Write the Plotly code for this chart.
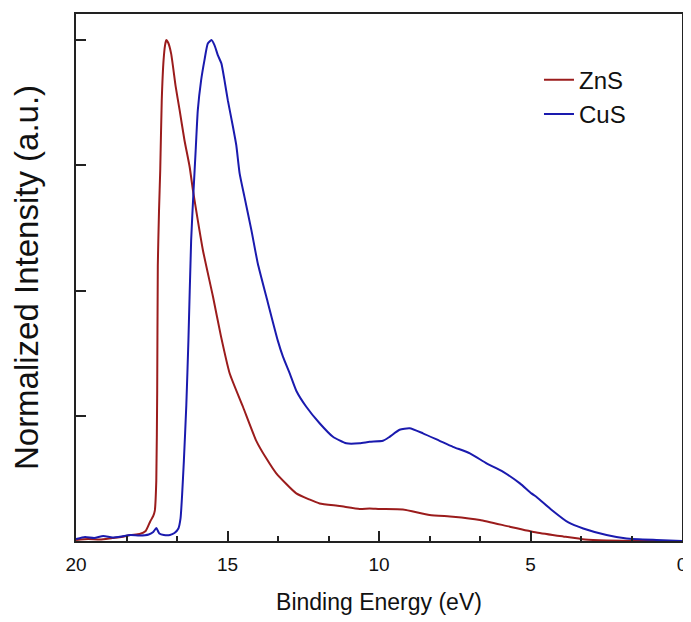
import plotly.graph_objects as go

# Binding energy (eV) and normalized intensity
zns_energy = [20.0, 19.6, 19.2, 18.8, 18.5, 18.2, 17.9, 17.7, 17.55, 17.45, 17.40, 17.35, 17.32,
              17.30, 17.26, 17.22, 17.17, 17.11, 17.06, 17.02, 16.96, 16.86, 16.71, 16.58, 16.42,
              16.25, 16.14, 15.98, 15.81, 15.48, 15.22, 14.93, 14.49, 14.05, 13.72, 13.39, 12.73,
              12.3, 11.96, 11.3, 10.64, 10.31, 9.98, 9.21, 8.33, 7.56, 6.67, 5.68, 4.8, 3.92, 3.2,
              2.5, 1.5, 0.0]
zns_intensity = [0.002, 0.004, 0.003, 0.006, 0.008, 0.012, 0.014, 0.020, 0.039, 0.050, 0.060, 0.12,
                 0.30, 0.55, 0.66, 0.74, 0.88, 0.96, 0.99, 1.0, 0.995, 0.973, 0.907, 0.86, 0.80,
                 0.747, 0.70, 0.64, 0.58, 0.488, 0.41, 0.335, 0.268, 0.20, 0.165, 0.135, 0.095,
                 0.083, 0.075, 0.070, 0.064, 0.065, 0.064, 0.063, 0.052, 0.0485, 0.042, 0.0285,
                 0.017, 0.009, 0.003, 0.001, 0.0, 0.0]

cus_energy = [20.0, 19.7, 19.4, 19.1, 18.8, 18.5, 18.2, 17.9, 17.6, 17.45, 17.35, 17.25, 17.1,
              16.9, 16.75, 16.62, 16.55, 16.5, 16.44, 16.36, 16.29, 16.2, 16.12, 16.05, 15.98,
              15.87, 15.76, 15.65, 15.53, 15.43, 15.32, 15.2, 15.1, 14.99, 14.82, 14.71, 14.6,
              14.44, 14.21, 14.0, 13.72, 13.34, 13.17, 12.95, 12.73, 12.4, 11.96, 11.52, 11.08,
              10.64, 10.31, 9.87, 9.65, 9.32, 8.99, 8.55, 8.0, 7.56, 7.0, 6.45, 5.9, 5.35, 4.97,
              4.8, 4.3, 3.75, 3.26, 2.49, 1.83, 0.84, 0.0]
cus_intensity = [0.004, 0.008, 0.006, 0.010, 0.007, 0.009, 0.012, 0.011, 0.013, 0.018, 0.026, 0.015,
                 0.012, 0.012, 0.016, 0.025, 0.045, 0.09, 0.16, 0.27, 0.40, 0.60, 0.70, 0.78, 0.86,
                 0.92, 0.96, 0.993, 1.0, 0.99, 0.97, 0.953, 0.92, 0.88, 0.827, 0.79, 0.734, 0.687,
                 0.62, 0.554, 0.488, 0.40, 0.368, 0.335, 0.30, 0.268, 0.235, 0.208, 0.195, 0.195,
                 0.198, 0.20, 0.208, 0.222, 0.225, 0.215, 0.20, 0.188, 0.175, 0.155, 0.138, 0.115,
                 0.095, 0.088, 0.062, 0.037, 0.025, 0.012, 0.005, 0.002, 0.0]

x_tickvals = [20, 15, 10, 5, 0]
x_ticktext = ["20", "15", "10", "5", "0"]
y_tickvals = [0, 0.25, 0.5, 0.75, 1.0]

FONT = "Liberation Sans, Arial, sans-serif"

fig = go.Figure()
fig.add_trace(go.Scatter(x=zns_energy, y=zns_intensity, mode="lines", name="ZnS",
                         legendgroup="zns",
                         line=dict(color="#9b1c1c", width=2, shape="spline", smoothing=0.5)))
fig.add_trace(go.Scatter(x=cus_energy, y=cus_intensity, mode="lines", name="CuS",
                         legendgroup="cus",
                         line=dict(color="#1a1aae", width=2, shape="spline", smoothing=0.5)))

# page body adds an 8px margin, so the figure is 8px smaller and margins compensate
fig.update_layout(
    width=683, height=614,
    margin=dict(l=68, r=9, t=6, b=81),
    paper_bgcolor="white", plot_bgcolor="white",
    font=dict(family=FONT, color="#111"),
    legend=dict(x=0.764, y=0.917, xanchor="left", yanchor="top",
                font=dict(size=24, family=FONT), bgcolor="rgba(0,0,0,0)",
                tracegroupgap=0),
    showlegend=True,
)
fig.update_xaxes(
    range=[20, 0], tickmode="array", tickvals=x_tickvals, ticktext=x_ticktext,
    ticks="inside", ticklen=10, tickwidth=1.5, tickcolor="#222",
    minor=dict(ticks="inside", dtick=5/3, tick0=0, ticklen=5, tickwidth=1.5, tickcolor="#222"),
    showline=True, linecolor="#222", linewidth=2, mirror=True,
    showgrid=False, zeroline=False, automargin=False,
    tickfont=dict(size=19, family=FONT), ticklabelstandoff=5,
    title=dict(text="Binding Energy (eV)", font=dict(size=23, family=FONT), standoff=20),
)
fig.update_yaxes(
    range=[0, 1.052], tickmode="array", tickvals=y_tickvals, showticklabels=False,
    ticks="inside", ticklen=10, tickwidth=1.5, tickcolor="#222",
    showline=True, linecolor="#222", linewidth=2, mirror=True,
    showgrid=False, zeroline=False, automargin=False,
    title=dict(text="Normalized Intensity (a.u.)", font=dict(size=33, family=FONT), standoff=27),
)

fig.write_html("out.html")
